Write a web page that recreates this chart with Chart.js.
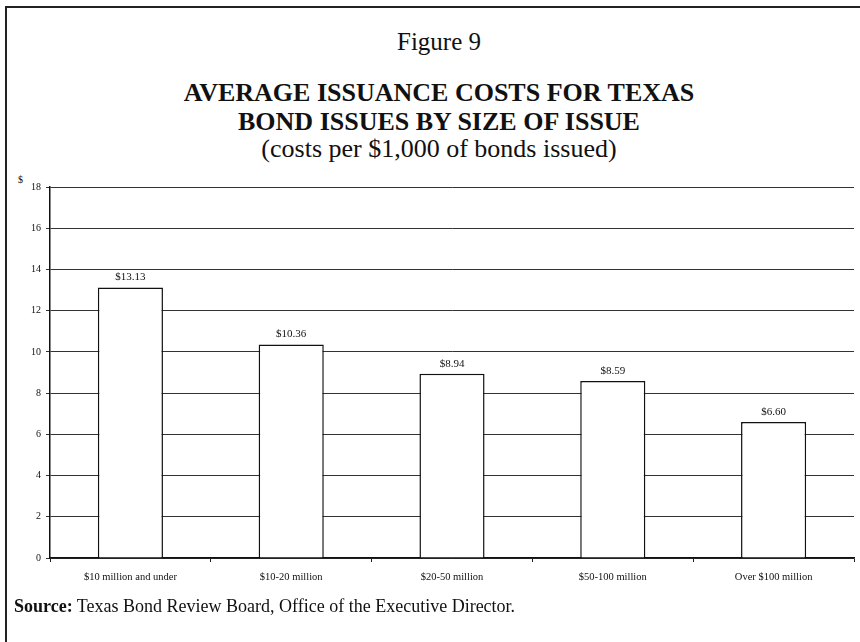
<!DOCTYPE html>
<html>
<head>
<meta charset="utf-8">
<script src="https://cdn.jsdelivr.net/npm/chart.js@4.4.0/dist/chart.umd.min.js"></script>
<style>
  body { margin: 0; background: #fff; font-family: "Liberation Serif", "Times New Roman", serif; color: #111; }
  #page { position: relative; width: 860px; height: 642px; overflow: hidden; }
  #frame { position: absolute; left: 5px; top: 6px; width: 860px; height: 640px; border-top: 2px solid #222; border-left: 2px solid #222; }
  .line { position: absolute; left: 18px; width: 842px; text-align: center; white-space: nowrap; }
  #fig { top: 27px; font-size: 25px; line-height: 30px; }
  #t1 { top: 78px; font-size: 26px; line-height: 30px; font-weight: bold; }
  #t2 { top: 107px; font-size: 26px; line-height: 30px; font-weight: bold; }
  #sub { top: 134px; font-size: 26px; line-height: 30px; }
  #dollar { position: absolute; left: 18px; top: 174px; font-size: 10px; }
  #source { position: absolute; left: 14px; top: 596px; font-size: 18px; line-height: 20px; }
  #chartBox { position: absolute; left: 0; top: 170px; width: 860px; height: 430px; }
</style>
</head>
<body>
<div id="page">
  <div id="frame"></div>
  <div class="line" id="fig">Figure 9</div>
  <div class="line" id="t1">AVERAGE ISSUANCE COSTS FOR TEXAS</div>
  <div class="line" id="t2">BOND ISSUES BY SIZE OF ISSUE</div>
  <div class="line" id="sub">(costs per $1,000 of bonds issued)</div>
  <div id="dollar">$</div>
  <div id="chartBox"><canvas id="barChart" width="860" height="430"></canvas></div>
  <div id="source"><b>Source:</b> Texas Bond Review Board, Office of the Executive Director.</div>
</div>
<script>
// Average issuance cost per $1,000 of bonds, by size of issue
const issueSizes = ['$10 million and under', '$10-20 million', '$20-50 million', '$50-100 million', 'Over $100 million'];
const avgCosts = [13.13, 10.36, 8.94, 8.59, 6.60];
const yTicks = [0, 2, 4, 6, 8, 10, 12, 14, 16, 18];

// draws the "$13.13" style labels above each bar
const valueLabels = {
    id: 'valueLabels',
    afterDatasetsDraw(chart) {
        const ctx = chart.ctx;
        const meta = chart.getDatasetMeta(0);
        ctx.save();
        ctx.font = '11px "Liberation Serif", serif';
        ctx.fillStyle = '#111';
        ctx.textAlign = 'center';
        ctx.textBaseline = 'alphabetic';
        meta.data.forEach((bar, i) => {
            ctx.fillText('$' + avgCosts[i].toFixed(2), bar.x, bar.y - 7);
        });
        ctx.restore();
    }
};

const canvas = document.getElementById('barChart');
new Chart(canvas, {
    type: 'bar',
    data: {
        labels: issueSizes,
        datasets: [{
            data: avgCosts,
            backgroundColor: '#fff',
            borderColor: '#111',
            borderWidth: 1.5,
            categoryPercentage: 1,
            barPercentage: 0.405
        }]
    },
    options: {
        responsive: false,
        animation: false,
        layout: { padding: { top: 17, right: 6, left: 0, bottom: 0 } },
        plugins: { legend: { display: false }, tooltip: { enabled: false } },
        scales: {
            x: {
                afterFit: s => { s.height = 42; },
                grid: { drawOnChartArea: false, drawTicks: true, tickLength: 4, color: '#222' },
                border: { display: true, color: '#111', width: 1.5 },
                ticks: { padding: 9, color: '#111', font: { family: '"Liberation Serif", serif', size: 10.5 } }
            },
            y: {
                min: 0,
                max: 18,
                afterFit: s => { s.width = 50; },
                afterBuildTicks: s => { s.ticks = yTicks.map(v => ({ value: v })); },
                grid: { color: '#333', lineWidth: 1, tickLength: 4 },
                border: { display: true, color: '#111', width: 1.5 },
                ticks: { padding: 5, color: '#111', font: { family: '"Liberation Serif", serif', size: 10 } }
            }
        }
    },
    plugins: [valueLabels]
});
</script>
</body>
</html>
